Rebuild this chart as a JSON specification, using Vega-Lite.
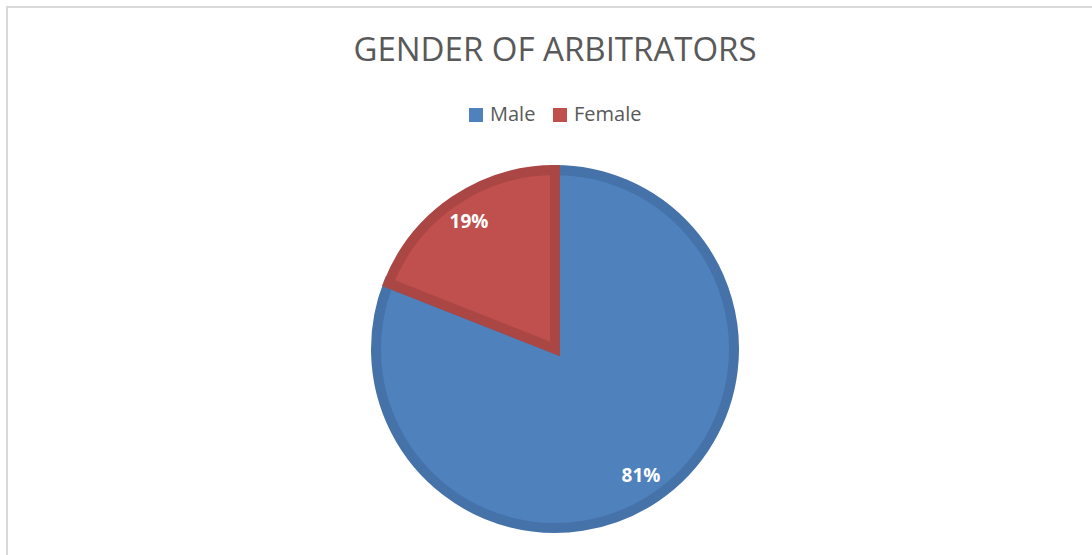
{
  "$schema": "https://vega.github.io/schema/vega-lite/v6.json",
  "width": 1096,
  "height": 684,
  "padding": {"left": 7, "top": 7, "right": 0, "bottom": 0},
  "autosize": {"type": "none"},
  "background": "white",
  "view": {"stroke": "#d9d9d9", "strokeWidth": 2},
  "config": {
    "view": {"stroke": "#d9d9d9", "strokeWidth": 2},
    "font": "Open Sans"
  },
  "title": {
    "text": "GENDER OF ARBITRATORS",
    "font": "Open Sans",
    "fontSize": 33,
    "fontWeight": "normal",
    "color": "#595959",
    "anchor": "middle",
    "frame": "group",
    "baseline": "alphabetic",
    "offset": -87
  },
  "data": {
    "values": [
      {"gender": "Male", "share": 0.81},
      {"gender": "Female", "share": 0.19}
    ]
  },
  "encoding": {
    "theta": {"field": "share", "type": "quantitative", "stack": true},
    "order": {"field": "share", "sort": "descending"}
  },
  "layer": [
    {
      "mark": {"type": "arc", "outerRadius": 179, "strokeWidth": 10, "strokeJoin": "miter"},
      "encoding": {
        "color": {
          "field": "gender",
          "type": "nominal",
          "scale": {"domain": ["Male", "Female"], "range": ["#4F81BD", "#C0504D"]},
          "legend": {
            "title": null,
            "orient": "none",
            "direction": "horizontal",
            "legendX": 459,
            "legendY": 98,
            "symbolType": "square",
            "symbolSize": 196,
            "symbolStrokeWidth": 0,
            "labelFont": "Open Sans",
            "labelFontSize": 20,
            "labelColor": "#595959",
            "columnPadding": 14,
            "labelOffset": 4
          }
        },
        "stroke": {
          "field": "gender",
          "type": "nominal",
          "scale": {"domain": ["Male", "Female"], "range": ["#4672AA", "#AA4644"]},
          "legend": null
        }
      }
    },
    {
      "mark": {"type": "text", "radius": 153, "font": "Open Sans", "fontSize": 19, "fontWeight": "bold", "fill": "white", "align": "center", "baseline": "middle"},
      "encoding": {
        "text": {"field": "share", "type": "quantitative", "format": ".0%"},
        "detail": {"field": "gender"}
      }
    }
  ]
}
